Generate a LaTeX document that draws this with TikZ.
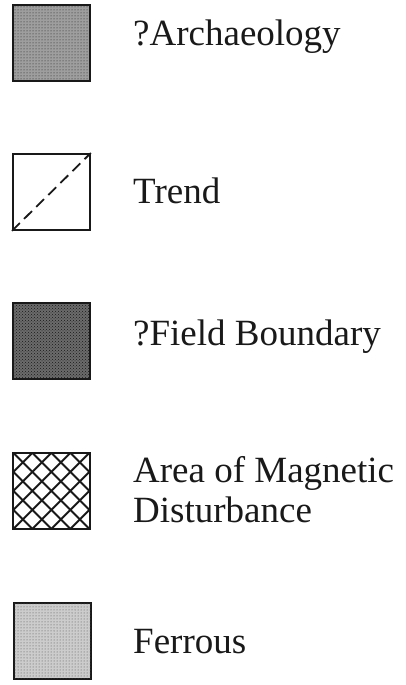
\documentclass[tikz,border=0pt]{standalone}
\usepackage{fontspec}
\setmainfont{Liberation Serif}
\usepackage{xcolor}
\usetikzlibrary{patterns}
\definecolor{ink}{RGB}{25, 25, 25}

\tikzset{
  keybox/.style={draw=ink, line width=1.8pt, minimum width=77pt, minimum height=76pt,
    inner sep=0pt, anchor=north west},
  keytext/.style={text=ink, font=\fontsize{37}{40}\selectfont, anchor=base west,
    inner sep=0pt, align=left},
}

\begin{document}
\begin{tikzpicture}[x=1pt, y=-1pt]
\useasboundingbox (0,0) rectangle (405,685);
% legend boxes
\node[keybox, fill=black!38, postaction={pattern=dots, pattern color=ink}] (archbox) at (12,4) {};
\node[keybox] (trendbox) at (12,153) {};
\draw[ink, line width=1.8pt, dash pattern=on 11pt off 6pt] (trendbox.south west) -- (trendbox.north east);
\node[keybox, fill=black!58, postaction={pattern=crosshatch dots, pattern color=ink}] (fieldbox) at (12,302) {};
\node[keybox, path picture={
    \foreach \k in {-95,-76,...,95}
      \draw[ink, line width=1.9pt, shift={(path picture bounding box.center)}]
        (\k-60,-60) -- (\k+60,60) (\k-60,60) -- (\k+60,-60);
  }] (magbox) at (12,452) {};
\node[keybox, fill=black!20, postaction={pattern=dots, pattern color=black!70}] (ferrbox) at (13,602) {};
% legend texts
\node[keytext] (archtext) at (133,46) {?Archaeology};
\node[keytext] (trendtext) at (133,203) {Trend};
\node[keytext] (fieldtext) at (133,345) {?Field Boundary};
\node[keytext] (magtext) at (133,522) {Area of Magnetic\\Disturbance};
\node[keytext] (ferrtext) at (133,653) {Ferrous};
\end{tikzpicture}
\end{document}
